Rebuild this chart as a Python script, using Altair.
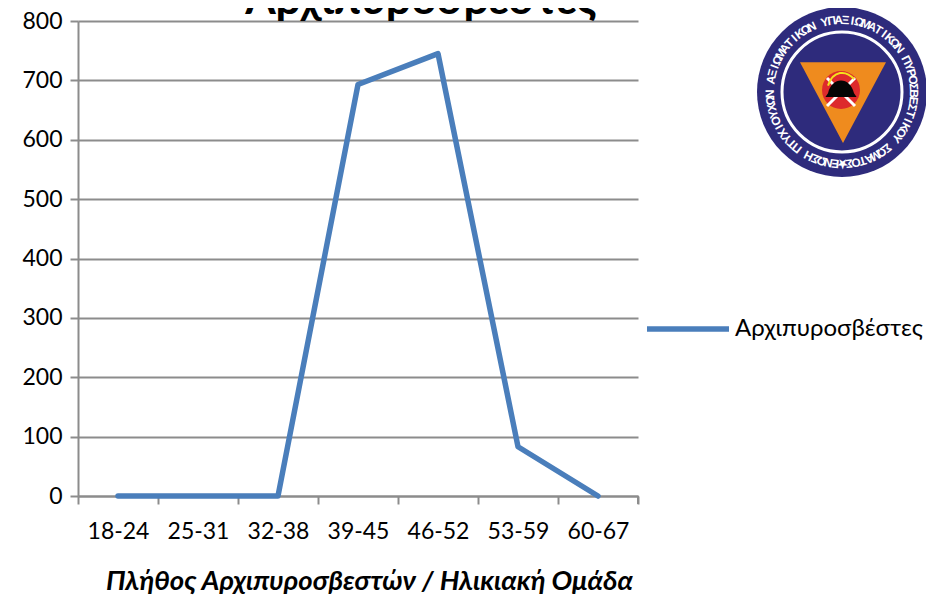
import math
import altair as alt
import pandas as pd

FONT = "Lato"
AGE_GROUPS = ["18-24", "25-31", "32-38", "39-45", "46-52", "53-59", "60-67"]
COUNTS = [0, 0, 0, 693, 745, 83, 0]
SERIES = "Αρχιπυροσβέστες"
TITLE = "Αρχιπυροσβέστες"
X_TITLE = "Πλήθος Αρχιπυροσβεστών / Ηλικιακή Ομάδα"
RING_TEXT = "★ΕΝΩΣΗ ΠΤΥΧΙΟΥΧΩΝ ΑΞΙΩΜΑΤΙΚΩΝ ΥΠΑΞΙΩΜΑΤΙΚΩΝ ΠΥΡΟΣΒΕΣΤΙΚΟΥ ΣΩΜΑΤΟΣ"

W, H = 560, 475
GRAY = "#8c8c8c"
BLUE = "#4a7ebb"
dummy = alt.Data(values=[{"a": 1}])

df = pd.DataFrame({"age": AGE_GROUPS, "n": COUNTS, "series": SERIES})

line = alt.Chart(df).mark_line(strokeWidth=5.5, strokeJoin="round", strokeCap="round").encode(
    x=alt.X("age:N", sort=AGE_GROUPS,
            scale=alt.Scale(type="band", paddingInner=0, paddingOuter=0),
            axis=alt.Axis(title=X_TITLE, titleFont=FONT, titleFontSize=27.5, titleFontWeight="bold",
                          titleFontStyle="italic", titleColor="#000", titlePadding=24,
                          titleX=291, labelFont=FONT, labelFontSize=23, labelColor="#000",
                          labelAngle=0, labelPadding=16, tickSize=8, tickWidth=2, tickColor=GRAY,
                          domainColor=GRAY, domainWidth=2, bandPosition=0, grid=False, tickBand="extent")),
    y=alt.Y("n:Q", scale=alt.Scale(domain=[0, 800], nice=False),
            axis=alt.Axis(title=None, values=list(range(0, 801, 100)), labelFont=FONT, labelFontSize=23,
                          labelColor="#000", labelPadding=8, tickSize=8, tickWidth=2, tickColor=GRAY,
                          domainColor=GRAY, domainWidth=2, grid=True, gridColor=GRAY, gridWidth=2)),
    color=alt.Color("series:N", scale=alt.Scale(range=[BLUE]),
                    legend=alt.Legend(title=None, orient="none", legendX=566, legendY=264,
                                      symbolType="stroke", symbolSize=6724, symbolStrokeWidth=5.5,
                                      labelFont=FONT, labelFontSize=24, labelColor="#000", labelOffset=3,
                                      labelLimit=300)),
)

end_tick = alt.Chart(dummy).mark_rule(color=GRAY, strokeWidth=2).encode(
    x=alt.value(W), y=alt.value(H), y2=alt.value(H + 8))

title = alt.Chart(dummy).mark_text(text=TITLE, font=FONT, fontSize=44, fontWeight="bold", color="#000",
                                   align="center", baseline="alphabetic").encode(
    x=alt.value(343), y=alt.value(-7))

def shape(path, cx, cy, r, color, filled=True, sw=0):
    return alt.Chart(dummy).mark_point(shape=path, size=(2 * r) ** 2, filled=filled, opacity=1,
                                       fill=color if filled else None, stroke=None if filled else color,
                                       strokeWidth=sw).encode(
        x=alt.value(cx), y=alt.value(cy))

CX, CY = 764, 71
logo = [
    shape("circle", CX, CY, 85, "#2e2b7c"),
    shape("circle", CX, CY, 60, "white", filled=False, sw=3),
    shape("M-1 -0.88L1 -0.88L0 1Z", 765, 79, 43, "#ef8b1e"),
    shape("circle", 763, 69, 19, "#dd2a2c"),
    shape("M-1 1L1 -1", 763, 71, 14, "white", filled=False, sw=3),
    shape("M-1 -1L1 1", 763, 71, 14, "white", filled=False, sw=3),
    shape("M-1 0.4C-0.7 -0.9 0.7 -0.9 1 0.4L1.2 0.7L-1.2 0.7Z", 763, 67, 13, "#050505"),
    shape("M-1 0.2C-0.6 -1 0.4 -1 1 -0.3", 763, 62, 13, "#f4e21c", filled=False, sw=2),
]

n = len(RING_TEXT)
ring = pd.DataFrame([
    {"ch": c,
     "px": CX + 72 * math.sin(math.radians(180 + 360 * i / n)),
     "py": CY - 72 * math.cos(math.radians(180 + 360 * i / n)),
     "rot": (180 + 360 * i / n) % 360}
    for i, c in enumerate(RING_TEXT)
])
ring_text = alt.Chart(ring).mark_text(font="Liberation Sans", fontSize=12, fontWeight="bold", color="#ffffff",
                                      align="center", baseline="middle").encode(
    x=alt.X("px:Q", scale=None, axis=None),
    y=alt.Y("py:Q", scale=None, axis=None),
    angle=alt.Angle("rot:Q", scale=None),
    text="ch:N",
)

chart = alt.layer(line, end_tick, title, *logo, ring_text).resolve_scale(
    x="independent", y="independent"
).properties(
    width=W, height=H, autosize="none",
    padding={"left": 70, "top": 13, "right": 288, "bottom": 100},
    background="white",
).configure_view(stroke=None)

chart.save("out.html", embed_options={"renderer": "svg", "actions": False})
